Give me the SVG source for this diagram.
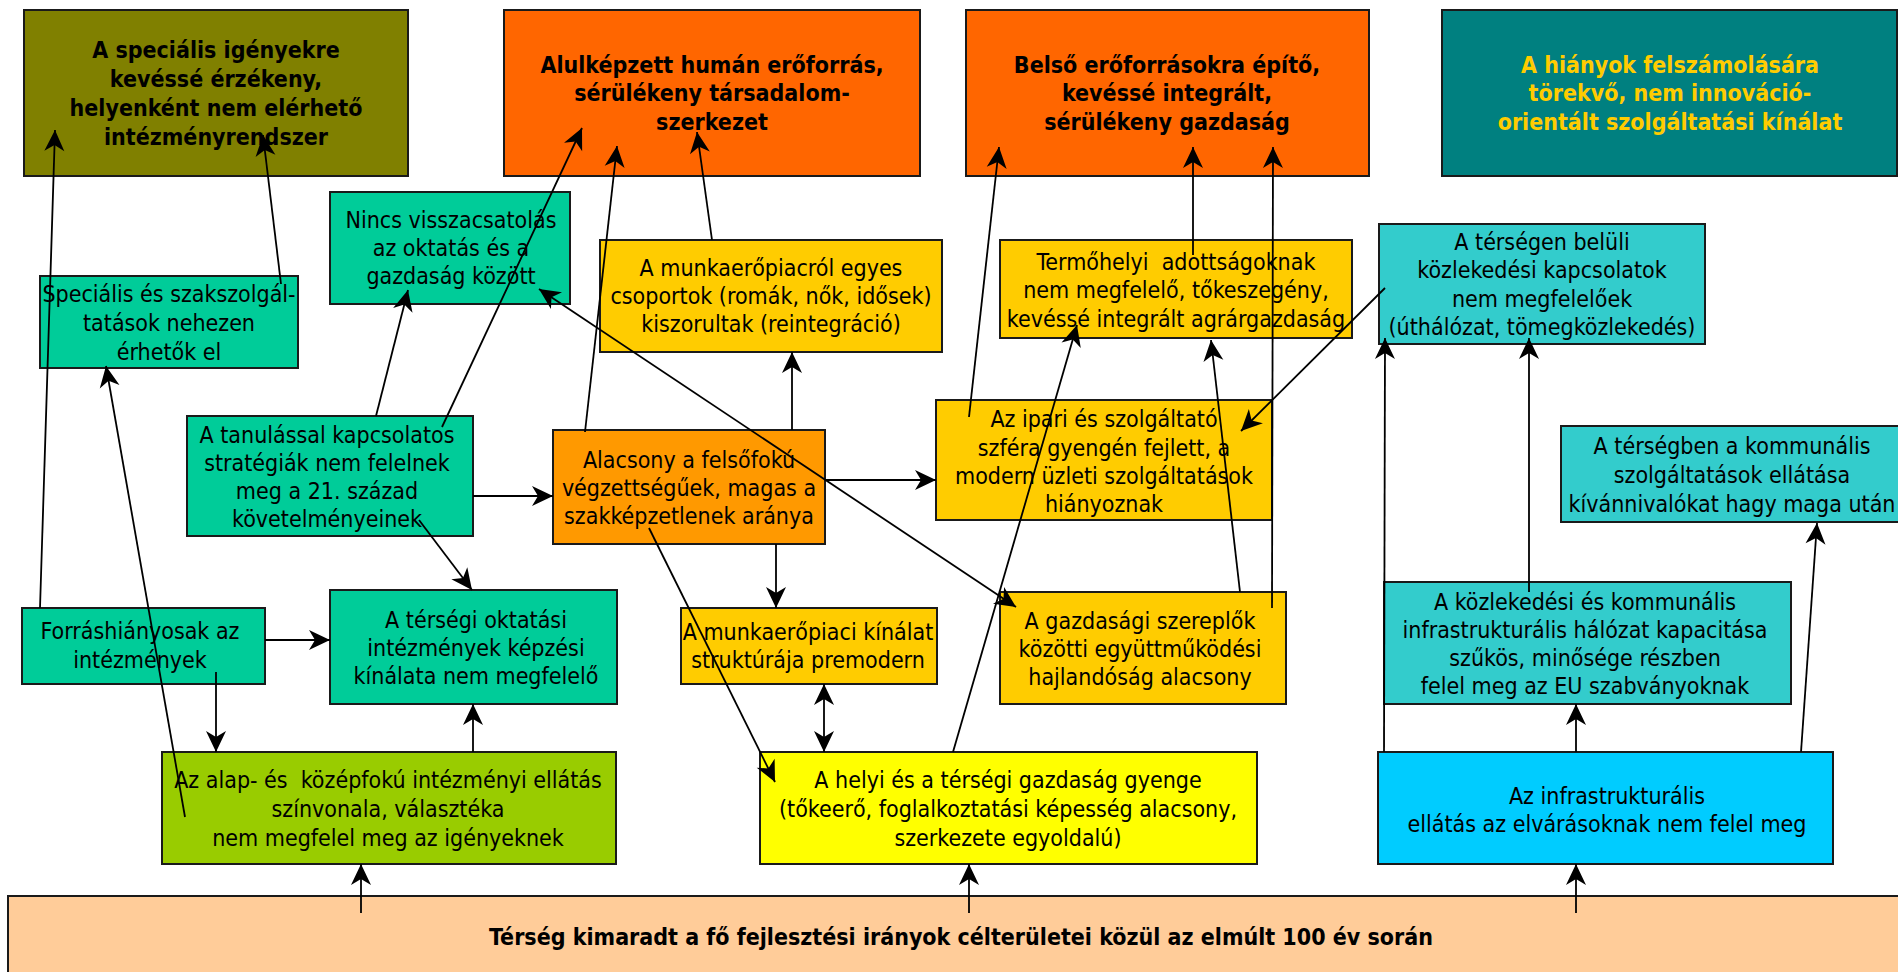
<svg xmlns="http://www.w3.org/2000/svg" width="1898" height="972" viewBox="0 0 1898 972">
<style>
.b{stroke:#1a1a1a;stroke-width:2}
.t{font-family:'DejaVu Sans Condensed','DejaVu Sans',sans-serif;font-stretch:condensed;font-size:23px;text-anchor:middle;fill:#000}
.h{font-weight:bold}
.y{fill:#FFCC00}
.c line{stroke:#000;stroke-width:1.8;marker-end:url(#ah)}
.c line.d{marker-start:url(#ahs)}
</style>
<defs>
<marker id="ah" markerUnits="userSpaceOnUse" markerWidth="26" markerHeight="26" viewBox="-23 -13 26 26" refX="0" refY="0" orient="auto"><path d="M0,0 L-21,-10 L-15,0 L-21,10 Z" fill="#000"/></marker>
<marker id="ahs" markerUnits="userSpaceOnUse" markerWidth="26" markerHeight="26" viewBox="-23 -13 26 26" refX="0" refY="0" orient="auto-start-reverse"><path d="M0,0 L-21,-10 L-15,0 L-21,10 Z" fill="#000"/></marker>
</defs>
<rect width="1898" height="972" fill="#fff"/>
<g id="n1"><rect class="b" x="24" y="10" width="384" height="166" fill="#808000"/><text class="t h" x="216"><tspan x="216" y="58">A speciális igényekre</tspan><tspan x="216" y="87">kevéssé érzékeny,</tspan><tspan x="216" y="116">helyenként nem elérhető</tspan><tspan x="216" y="145">intézményrendszer</tspan></text></g>
<g id="n2"><rect class="b" x="504" y="10" width="416" height="166" fill="#FF6600"/><text class="t h"><tspan x="712" y="73">Alulképzett humán erőforrás,</tspan><tspan x="712" y="101">sérülékeny társadalom-</tspan><tspan x="712" y="130">szerkezet</tspan></text></g>
<g id="n3"><rect class="b" x="966" y="10" width="403" height="166" fill="#FF6600"/><text class="t h"><tspan x="1167" y="73">Belső erőforrásokra építő,</tspan><tspan x="1167" y="101">kevéssé integrált,</tspan><tspan x="1167" y="130">sérülékeny gazdaság</tspan></text></g>
<g id="n4"><rect class="b" x="1442" y="10" width="455" height="166" fill="#008080"/><text class="t h y"><tspan x="1670" y="73">A hiányok felszámolására</tspan><tspan x="1670" y="101">törekvő, nem innováció-</tspan><tspan x="1670" y="130">orientált szolgáltatási kínálat</tspan></text></g>
<g id="n5"><rect class="b" x="330" y="192" width="240" height="112" fill="#00CC99"/><text class="t"><tspan x="451" y="228">Nincs visszacsatolás</tspan><tspan x="451" y="256">az oktatás és a</tspan><tspan x="451" y="284">gazdaság között</tspan></text></g>
<g id="n6"><rect class="b" x="40" y="276" width="258" height="92" fill="#00CC99"/><text class="t"><tspan x="169" y="302">Speciális és szakszolgál-</tspan><tspan x="169" y="331">tatások nehezen</tspan><tspan x="169" y="360">érhetők el</tspan></text></g>
<g id="n7"><rect class="b" x="600" y="240" width="342" height="112" fill="#FFCC00"/><text class="t"><tspan x="771" y="276">A munkaerőpiacról egyes</tspan><tspan x="771" y="304">csoportok (romák, nők, idősek)</tspan><tspan x="771" y="332">kiszorultak (reintegráció)</tspan></text></g>
<g id="n8"><rect class="b" x="1000" y="240" width="352" height="98" fill="#FFCC00"/><text class="t" xml:space="preserve"><tspan x="1176" y="270">Termőhelyi  adottságoknak</tspan><tspan x="1176" y="298">nem megfelelő, tőkeszegény,</tspan><tspan x="1176" y="327">kevéssé integrált agrárgazdaság</tspan></text></g>
<g id="n9"><rect class="b" x="1379" y="224" width="326" height="120" fill="#33CCCC"/><text class="t"><tspan x="1542" y="250">A térségen belüli</tspan><tspan x="1542" y="278">közlekedési kapcsolatok</tspan><tspan x="1542" y="307">nem megfelelőek</tspan><tspan x="1542" y="335">(úthálózat, tömegközlekedés)</tspan></text></g>
<g id="n10"><rect class="b" x="187" y="416" width="286" height="120" fill="#00CC99"/><text class="t"><tspan x="327" y="443">A tanulással kapcsolatos</tspan><tspan x="327" y="471">stratégiák nem felelnek</tspan><tspan x="327" y="499">meg a 21. század</tspan><tspan x="327" y="527">követelményeinek</tspan></text></g>
<g id="n11"><rect class="b" x="553" y="430" width="272" height="114" fill="#FF9900"/><text class="t"><tspan x="689" y="468">Alacsony a felsőfokú</tspan><tspan x="689" y="496">végzettségűek, magas a</tspan><tspan x="689" y="524">szakképzetlenek aránya</tspan></text></g>
<g id="n12"><rect class="b" x="936" y="400" width="336" height="120" fill="#FFCC00"/><text class="t"><tspan x="1104" y="427">Az ipari és szolgáltató</tspan><tspan x="1104" y="456">szféra gyengén fejlett, a</tspan><tspan x="1104" y="484">modern üzleti szolgáltatások</tspan><tspan x="1104" y="512">hiányoznak</tspan></text></g>
<g id="n13"><rect class="b" x="1561" y="426" width="342" height="96" fill="#33CCCC"/><text class="t"><tspan x="1732" y="454">A térségben a kommunális</tspan><tspan x="1732" y="483">szolgáltatások ellátása</tspan><tspan x="1732" y="512">kívánnivalókat hagy maga után</tspan></text></g>
<g id="n14"><rect class="b" x="22" y="608" width="243" height="76" fill="#00CC99"/><text class="t"><tspan x="140" y="639">Forráshiányosak az</tspan><tspan x="140" y="668">intézmények</tspan></text></g>
<g id="n15"><rect class="b" x="330" y="590" width="287" height="114" fill="#00CC99"/><text class="t"><tspan x="476" y="628">A térségi oktatási</tspan><tspan x="476" y="656">intézmények képzési</tspan><tspan x="476" y="684">kínálata nem megfelelő</tspan></text></g>
<g id="n16"><rect class="b" x="681" y="608" width="256" height="76" fill="#FFCC00"/><text class="t"><tspan x="808" y="640">A munkaerőpiaci kínálat</tspan><tspan x="808" y="668">struktúrája premodern</tspan></text></g>
<g id="n17"><rect class="b" x="1000" y="592" width="286" height="112" fill="#FFCC00"/><text class="t"><tspan x="1140" y="629">A gazdasági szereplők</tspan><tspan x="1140" y="657">közötti együttműködési</tspan><tspan x="1140" y="685">hajlandóság alacsony</tspan></text></g>
<g id="n18"><rect class="b" x="1384" y="582" width="407" height="122" fill="#33CCCC"/><text class="t"><tspan x="1585" y="610">A közlekedési és kommunális</tspan><tspan x="1585" y="638">infrastrukturális hálózat kapacitása</tspan><tspan x="1585" y="666">szűkös, minősége részben</tspan><tspan x="1585" y="694">felel meg az EU szabványoknak</tspan></text></g>
<g id="n19"><rect class="b" x="162" y="752" width="454" height="112" fill="#99CC00"/><text class="t" xml:space="preserve"><tspan x="388" y="788">Az alap- és  középfokú intézményi ellátás</tspan><tspan x="388" y="817">színvonala, választéka</tspan><tspan x="388" y="846">nem megfelel meg az igényeknek</tspan></text></g>
<g id="n20"><rect class="b" x="760" y="752" width="497" height="112" fill="#FFFF00"/><text class="t"><tspan x="1008" y="788">A helyi és a térségi gazdaság gyenge</tspan><tspan x="1008" y="817">(tőkeerő, foglalkoztatási képesség alacsony,</tspan><tspan x="1008" y="846">szerkezete egyoldalú)</tspan></text></g>
<g id="n21"><rect class="b" x="1378" y="752" width="455" height="112" fill="#00CCFF"/><text class="t"><tspan x="1607" y="804">Az infrastrukturális</tspan><tspan x="1607" y="832">ellátás az elvárásoknak nem felel meg</tspan></text></g>
<g id="n22"><rect class="b" x="8" y="896" width="1895" height="80" fill="#FFCC99"/><text class="t h" x="961" y="945" font-size="22">Térség kimaradt a fő fejlesztési irányok célterületei közül az elmúlt 100 év során</text></g>
<g id="connectors" class="c">
<line x1="40" y1="608" x2="55" y2="130"/>
<line x1="281" y1="284" x2="263" y2="135"/>
<line x1="185" y1="817" x2="106" y2="366"/>
<line x1="376" y1="416" x2="408" y2="290"/>
<line x1="442" y1="427" x2="582" y2="128"/>
<line x1="585" y1="432" x2="617" y2="146"/>
<line x1="712" y1="240" x2="697" y2="132"/>
<line class="d" x1="539" y1="289" x2="1016" y2="607"/>
<line x1="473" y1="496" x2="553" y2="496"/>
<line x1="419" y1="520" x2="472" y2="590"/>
<line x1="265" y1="640" x2="330" y2="640"/>
<line x1="216" y1="672" x2="216" y2="752"/>
<line x1="473" y1="752" x2="473" y2="704"/>
<line x1="792" y1="430" x2="792" y2="352"/>
<line x1="825" y1="480" x2="936" y2="480"/>
<line x1="776" y1="544" x2="776" y2="608"/>
<line class="d" x1="824" y1="684" x2="824" y2="752"/>
<line x1="649" y1="528" x2="775" y2="782"/>
<line x1="969" y1="417" x2="999" y2="147"/>
<line x1="1193" y1="255" x2="1193" y2="147"/>
<line x1="1272" y1="608" x2="1273" y2="147"/>
<line x1="953" y1="752" x2="1077" y2="325"/>
<line x1="1240" y1="592" x2="1211" y2="340"/>
<line x1="1385" y1="288" x2="1241" y2="431"/>
<line x1="1384" y1="752" x2="1385" y2="338"/>
<line x1="1529" y1="592" x2="1529" y2="338"/>
<line x1="1801" y1="752" x2="1817" y2="523"/>
<line x1="1576" y1="752" x2="1576" y2="704"/>
<line x1="361" y1="913" x2="361" y2="864"/>
<line x1="969" y1="913" x2="969" y2="864"/>
<line x1="1576" y1="913" x2="1576" y2="864"/>
</g>
</svg>
